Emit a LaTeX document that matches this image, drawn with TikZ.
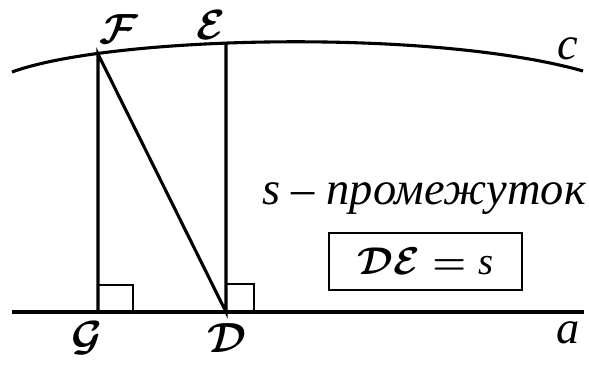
\RequirePackage{fix-cm}
\documentclass[tikz,border=0pt]{standalone}
\usepackage{fontspec}
\setmainfont{Liberation Serif}
\usetikzlibrary{positioning}
\tikzset{
    every node/.append style={align=center},
    geo/.style={line width=2.2pt},
    rtmark/.style={line width=1.7pt},
    lbl/.style={font=\fontsize{30pt}{36pt}\selectfont\mathversion{bold},inner sep=0pt},
    txt/.style={font=\fontsize{33pt}{38pt}\selectfont\itshape,inner sep=0pt},
    eqbox/.style={draw,line width=1.4pt,minimum width=4.825cm,minimum height=1.425cm,
        font=\fontsize{27.5pt}{32pt}\selectfont\mathversion{bold},inner sep=0pt}
}
\begin{document}
\begin{tikzpicture}[x=0.025cm,y=-0.025cm]
    \useasboundingbox (0,0) rectangle (589,365);
    \coordinate (cl) at (12,72);
    \coordinate (cr) at (583,71);
    \coordinate (al) at (12,312);
    \coordinate (ar) at (584,312);
    \coordinate (G) at (98,312);
    \coordinate (D) at (226,312);
    \coordinate (F) at (98,54);
    \coordinate (E) at (226,43.5);

    \draw[geo] (cl) .. controls (110,36) and (430,28) .. (cr);
    \draw[geo] (al) -- (ar);
    \draw[geo] (G) -- (F) -- (D) -- (E);
    \draw[rtmark] (G) ++(0,-27) -| ++(35,27);
    \draw[rtmark] (D) ++(0,-28) -| ++(28,28);

    \node[lbl,anchor=base] (lblG) at (87,350)  {$\mathcal{G}$};
    \node[lbl,anchor=base] (lblD) at (227,352) {$\mathcal{D}$};
    \node[lbl,anchor=base] (lblF) at (119,44)  {$\mathcal{F}$};
    \node[lbl,anchor=base] (lblE) at (211,40)  {$\mathcal{E}$};
    \node[txt,anchor=base] (lblc) at (568,60)  {c};
    \node[txt,anchor=base] (lbla) at (568,343) {a};

    \node[txt,anchor=base west] (term) at (262,205) {s – промежуток};
    \node[eqbox] (eq) at (425.5,261.5) {$\mathcal{D}\mathcal{E}=\textit{s}$};
\end{tikzpicture}
\end{document}
